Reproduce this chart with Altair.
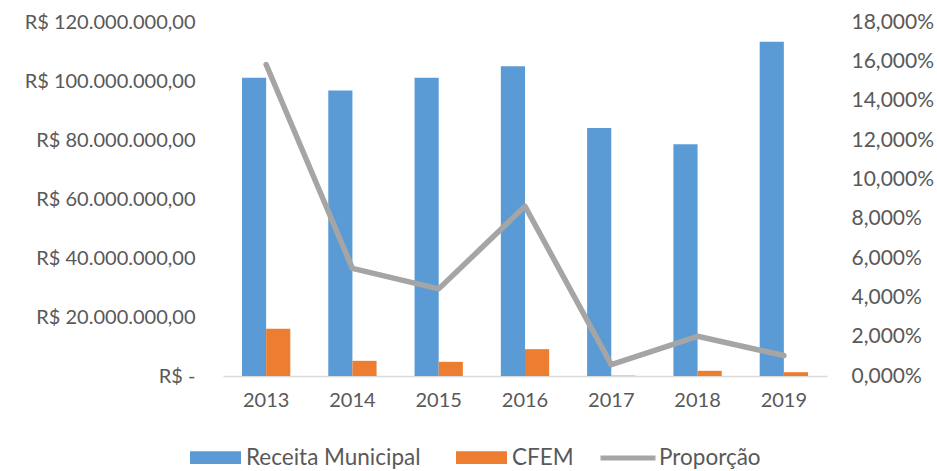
import altair as alt
import pandas as pd

anos = ["2013", "2014", "2015", "2016", "2017", "2018", "2019"]
receita = [101.1e6, 96.8e6, 101.1e6, 105.0e6, 84.1e6, 78.6e6, 113.3e6]
cfem = [16.0e6, 5.15e6, 4.8e6, 9.1e6, 0.12e6, 1.76e6, 1.3e6]
proporcao = [15.84, 5.47, 4.43, 8.63, 0.58, 2.02, 1.04]

series = ["Receita Municipal", "CFEM"]
cores = ["#5B9BD5", "#ED7D31"]

rows = []
for a, r, c in zip(anos, receita, cfem):
    rows.append({"ano": a, "serie": "Receita Municipal", "valor": r})
    rows.append({"ano": a, "serie": "CFEM", "valor": c})
bars_df = pd.DataFrame(rows)
line_df = pd.DataFrame({"ano": anos, "prop": proporcao, "nome": ["Proporção"] * len(anos)})

FONT = "Lato"
TXT = "#595959"
FS = 20
LFS = 22.5

xenc = alt.X(
    "ano:N",
    sort=anos,
    scale=alt.Scale(paddingInner=0.44, paddingOuter=0.22),
    axis=alt.Axis(
        title=None, labelAngle=0, ticks=False, domainColor="#D9D9D9", domainWidth=1.5,
        labelPadding=14, labelFontSize=FS, labelFont=FONT, labelColor=TXT,
    ),
)

left_expr = (
    "datum.value == 0 ? 'R$ -\u00a0\u00a0' : 'R$ ' + "
    "replace(replace(replace(format(datum.value, ',.2f'), regexp(',', 'g'), '#'), "
    "regexp('[.]', 'g'), ','), regexp('#', 'g'), '.')"
)

bars = alt.Chart(bars_df).mark_bar().encode(
    x=xenc,
    xOffset=alt.XOffset("serie:N", sort=series, scale=alt.Scale(paddingInner=0, paddingOuter=0)),
    y=alt.Y(
        "valor:Q",
        scale=alt.Scale(domain=[0, 120e6], nice=False),
        axis=alt.Axis(
            title=None, orient="left", values=[0, 20e6, 40e6, 60e6, 80e6, 100e6, 120e6],
            grid=False, ticks=False, domain=False, labelPadding=28, labelExpr=left_expr,
            labelFontSize=FS, labelFont=FONT, labelColor=TXT,
        ),
    ),
    color=alt.Color(
        "serie:N",
        sort=series,
        scale=alt.Scale(domain=series, range=cores),
        legend=alt.Legend(
            title=None, orient="none", direction="horizontal", legendX=-33, legendY=410,
            symbolType="M-1,-0.25H1V0.25H-1Z", symbolSize=2601, symbolStrokeWidth=0,
            labelOffset=5, columnPadding=35, labelFontSize=LFS, labelFont=FONT,
            labelColor=TXT, padding=0, labelLimit=400,
        ),
    ),
)

right_expr = "replace(format(datum.value, '.3f'), '.', ',') + '%'"

line = alt.Chart(line_df).mark_line(strokeWidth=5.5, strokeCap="round", strokeJoin="round").encode(
    x=xenc,
    y=alt.Y(
        "prop:Q",
        scale=alt.Scale(domain=[0, 18], nice=False),
        axis=alt.Axis(
            title=None, orient="right", values=[0, 2, 4, 6, 8, 10, 12, 14, 16, 18],
            grid=False, ticks=False, domain=False, labelPadding=24, labelExpr=right_expr,
            labelFontSize=21, labelFont=FONT, labelColor=TXT,
        ),
    ),
    stroke=alt.Stroke(
        "nome:N",
        scale=alt.Scale(domain=["Proporção"], range=["#A5A5A5"]),
        legend=alt.Legend(
            title=None, orient="none", direction="horizontal", legendX=375, legendY=406,
            symbolType="stroke", symbolSize=3025, symbolStrokeWidth=5,
            labelOffset=1, labelFontSize=LFS, labelFont=FONT, labelColor=TXT, padding=0,
        ),
    ),
)

chart = (
    alt.layer(bars, line)
    .resolve_scale(y="independent", color="independent")
    .properties(
        width=604, height=354,
        autosize=alt.AutoSizeParams(type="none"),
        padding={"left": 223, "top": 22, "right": 110, "bottom": 95},
        background="white",
    )
    .configure_view(stroke=None)
)

chart.save("out.html", embed_options={"renderer": "svg", "actions": False})
